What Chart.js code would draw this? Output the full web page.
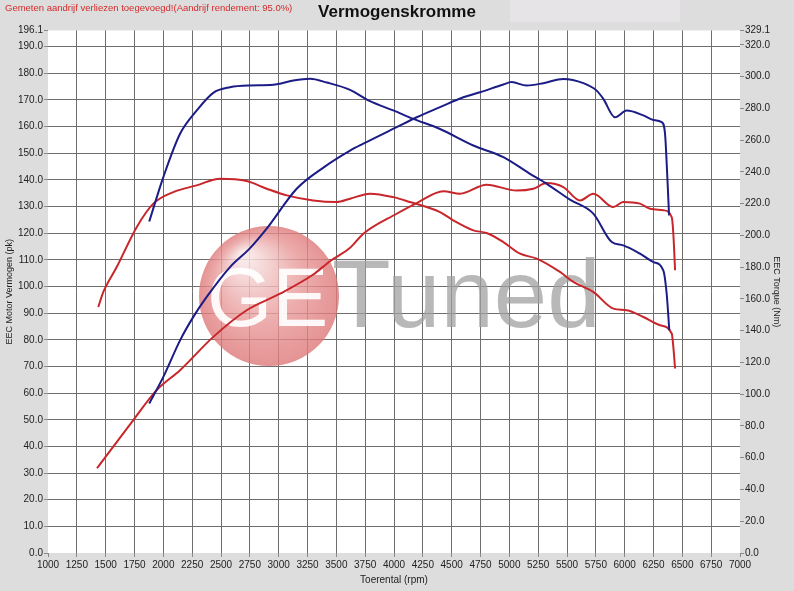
<!DOCTYPE html>
<html lang="nl">
<head>
  <meta charset="UTF-8">
  <title>Vermogenskromme</title>
  <style>
    html, body { margin: 0; padding: 0; background: #dddddd; }
    #wrap { width: 794px; height: 591px; }
  </style>
</head>
<body>
  <div id="wrap"><canvas id="myChart" width="794" height="591"></canvas></div>

  <script src="https://cdn.jsdelivr.net/npm/chart.js"></script>
  <script>
    // tuned run (blue)
    const tunedPowerRpm = [1878, 2000, 2145, 2260, 2376, 2578, 2750, 2896, 3156, 3400, 3619, 3734, 4023, 4197, 4399, 4601, 4746, 4948, 5020, 5150, 5295, 5468, 5642, 5757, 5815, 5916, 6018, 6162, 6249, 6321, 6350, 6370, 6385];
    const tunedPower = [56.1, 66.1, 79.8, 88.6, 96.1, 107.3, 114.3, 121.7, 136.7, 145.0, 151.0, 153.6, 159.8, 163.5, 167.3, 171.0, 172.9, 175.8, 176.7, 175.4, 176.3, 177.9, 176.3, 173.5, 170.4, 163.5, 166.0, 164.2, 162.5, 161.7, 157.3, 141.0, 126.7];

    const tunedTorqueRpm = [1878, 2000, 2145, 2290, 2433, 2578, 2750, 2953, 3127, 3272, 3417, 3619, 3792, 3994, 4167, 4399, 4688, 4948, 5179, 5324, 5526, 5728, 5888, 5988, 6133, 6249, 6335, 6364, 6387];
    const tunedTorque = [208.8, 236.7, 264.0, 278.7, 289.8, 293.3, 294.4, 294.8, 297.5, 298.6, 296.3, 291.7, 284.5, 278.7, 273.4, 267.0, 256.6, 249.3, 238.8, 232.5, 222.5, 213.7, 195.8, 193.7, 188.5, 183.2, 178.0, 163.4, 140.3];

    // stock run (red)
    const stockPowerRpm = [1425, 1740, 1942, 2145, 2433, 2723, 3012, 3300, 3445, 3619, 3734, 4023, 4197, 4428, 4572, 4803, 5064, 5208, 5324, 5468, 5613, 5728, 5902, 5988, 6133, 6220, 6335, 6408, 6422, 6437];
    const stockPower = [31.8, 49.9, 61.1, 68.6, 81.1, 91.1, 97.3, 104.5, 109.5, 114.5, 119.8, 127.3, 131.3, 135.7, 134.8, 138.2, 136.0, 136.7, 138.8, 137.3, 132.3, 134.8, 129.8, 131.7, 131.1, 129.2, 128.6, 126.0, 119.8, 106.1];

    const stockTorqueRpm = [1436, 1480, 1596, 1769, 1913, 2087, 2289, 2491, 2723, 2896, 3070, 3300, 3503, 3619, 3792, 3994, 4139, 4399, 4514, 4688, 4803, 4948, 5093, 5237, 5439, 5555, 5728, 5902, 6018, 6162, 6307, 6408, 6422, 6437];
    const stockTorque = [154.9, 164.4, 180.1, 205.2, 220.0, 227.3, 231.5, 235.7, 234.2, 229.4, 225.2, 222.0, 221.0, 223.1, 226.3, 224.1, 221.0, 214.7, 209.5, 203.2, 201.5, 195.8, 188.5, 185.4, 177.0, 170.7, 164.4, 153.9, 152.9, 148.6, 143.4, 138.2, 129.8, 116.2];

    // axis ticks
    const rpmTicks = [1000, 1250, 1500, 1750, 2000, 2250, 2500, 2750, 3000, 3250, 3500, 3750, 4000, 4250, 4500, 4750, 5000, 5250, 5500, 5750, 6000, 6250, 6500, 6750, 7000];
    const powerTicks = [0, 10, 20, 30, 40, 50, 60, 70, 80, 90, 100, 110, 120, 130, 140, 150, 160, 170, 180, 190, 196.1];
    const torqueTicks = [0, 20, 40, 60, 80, 100, 120, 140, 160, 180, 200, 220, 240, 260, 280, 300, 320, 329.1];

    const noteText = 'Gemeten aandrijf verliezen toegevoegd!(Aandrijf rendement: 95.0%)';

    const pts = (xs, ys) => xs.map((x, i) => ({ x: x, y: ys[i] }));
    const gridColor = '#6e6e6e';
    const tickColor = '#8a8a8a';
    const fontFam = '"Liberation Sans", Arial, sans-serif';

    // gray page, white plot, lighter box top right, red note
    const background = {
      id: 'background',
      beforeDraw(chart) {
        const c = chart.ctx, a = chart.chartArea;
        c.save();
        c.fillStyle = '#dddddd';
        c.fillRect(0, 0, chart.width, chart.height);
        c.fillStyle = '#e6e4e6';
        c.fillRect(510, 0, 170, 22);
        c.fillStyle = '#ffffff';
        c.fillRect(a.left, a.top, a.right - a.left, a.bottom - a.top);
        c.fillStyle = '#d42a2a';
        c.font = '9.5px ' + fontFam;
        c.textBaseline = 'middle';
        c.fillText(noteText, 5, 8);
        c.restore();
      }
    };

    // GETuned watermark
    const watermark = {
      id: 'watermark',
      beforeDatasetsDraw(chart) {
        const c = chart.ctx;
        c.save();
        const cx = 269, cy = 296, r = 70;
        const g = c.createRadialGradient(cx - 25, cy - 40, 5, cx, cy, r);
        g.addColorStop(0, 'rgba(248,230,230,0.85)');
        g.addColorStop(0.6, 'rgba(232,150,150,0.8)');
        g.addColorStop(1, 'rgba(222,120,120,0.8)');
        c.fillStyle = g;
        c.beginPath();
        c.arc(cx, cy, r, 0, Math.PI * 2);
        c.fill();
        c.fillStyle = 'rgba(255,255,255,0.92)';
        c.font = '84px ' + fontFam;
        c.textBaseline = 'alphabetic';
        c.fillText('GE', 207, 326);
        c.fillStyle = 'rgba(160,160,160,0.75)';
        c.font = '96px ' + fontFam;
        c.fillText('Tuned', 332, 327);
        c.restore();
      }
    };

    const ctx = document.getElementById('myChart');

    const grafica = new Chart(ctx, {
      type: 'line',
      data: {
        datasets: [
          { label: 'Vermogen tuned', data: pts(tunedPowerRpm, tunedPower), yAxisID: 'y', borderColor: '#1c1c86' },
          { label: 'Koppel tuned', data: pts(tunedTorqueRpm, tunedTorque), yAxisID: 'y2', borderColor: '#1c1c86' },
          { label: 'Vermogen standaard', data: pts(stockPowerRpm, stockPower), yAxisID: 'y', borderColor: '#c8262a' },
          { label: 'Koppel standaard', data: pts(stockTorqueRpm, stockTorque), yAxisID: 'y2', borderColor: '#c8262a' }
        ]
      },
      options: {
        responsive: false,
        animation: false,
        layout: { padding: 0 },
        elements: {
          point: { radius: 0 },
          line: { borderWidth: 2, cubicInterpolationMode: 'monotone', fill: false }
        },
        plugins: {
          legend: { display: false },
          tooltip: { enabled: false },
          title: {
            display: true,
            text: 'Vermogenskromme',
            color: '#111',
            font: { family: fontFam, size: 17, weight: 'bold', lineHeight: 1.2 },
            padding: { top: 2, bottom: 8 }
          }
        },
        scales: {
          x: {
            type: 'linear',
            min: 1000,
            max: 7000,
            afterBuildTicks: s => { s.ticks = rpmTicks.map(v => ({ value: v })); },
            afterFit: s => { s.height = 38; },
            border: { display: false },
            grid: {
              color: c => (c.tick && (c.tick.value === 1000 || c.tick.value === 7000)) ? 'rgba(0,0,0,0)' : gridColor,
              tickColor: tickColor,
              tickLength: 4
            },
            ticks: {
              color: '#222',
              font: { family: fontFam, size: 10 },
              padding: 2,
              maxRotation: 0,
              autoSkip: false,
              callback: v => String(v)
            },
            title: {
              display: true,
              text: 'Toerental (rpm)',
              color: '#222',
              font: { family: fontFam, size: 10 },
              padding: { top: 0, bottom: 5 }
            }
          },
          y: {
            position: 'left',
            min: 0,
            max: 196.1,
            afterBuildTicks: s => { s.ticks = powerTicks.map(v => ({ value: v })); },
            afterFit: s => { s.width = 48; },
            border: { display: false },
            grid: {
              color: c => (c.tick && (c.tick.value === 0 || c.tick.value === 196.1)) ? 'rgba(0,0,0,0)' : gridColor,
              tickColor: tickColor,
              tickLength: 4
            },
            ticks: {
              color: '#222',
              font: { family: fontFam, size: 10 },
              padding: 1,
              autoSkip: false,
              callback: v => Number(v).toFixed(1)
            },
            title: {
              display: true,
              text: 'EEC Motor Vermogen (pk)',
              color: '#222',
              font: { family: fontFam, size: 9 },
              padding: { top: 4, bottom: 0 }
            }
          },
          y2: {
            position: 'right',
            min: 0,
            max: 329.1,
            afterBuildTicks: s => { s.ticks = torqueTicks.map(v => ({ value: v })); },
            afterFit: s => { s.width = 54; },
            border: { display: false },
            grid: {
              drawOnChartArea: false,
              tickColor: tickColor,
              tickLength: 4
            },
            ticks: {
              color: '#222',
              font: { family: fontFam, size: 10 },
              padding: 1,
              autoSkip: false,
              callback: v => Number(v).toFixed(1)
            },
            title: {
              display: true,
              text: 'EEC Torque (Nm)',
              color: '#222',
              font: { family: fontFam, size: 9 },
              padding: { top: 12, bottom: 0 }
            }
          }
        }
      },
      plugins: [background, watermark]
    });
  </script>
</body>
</html>
